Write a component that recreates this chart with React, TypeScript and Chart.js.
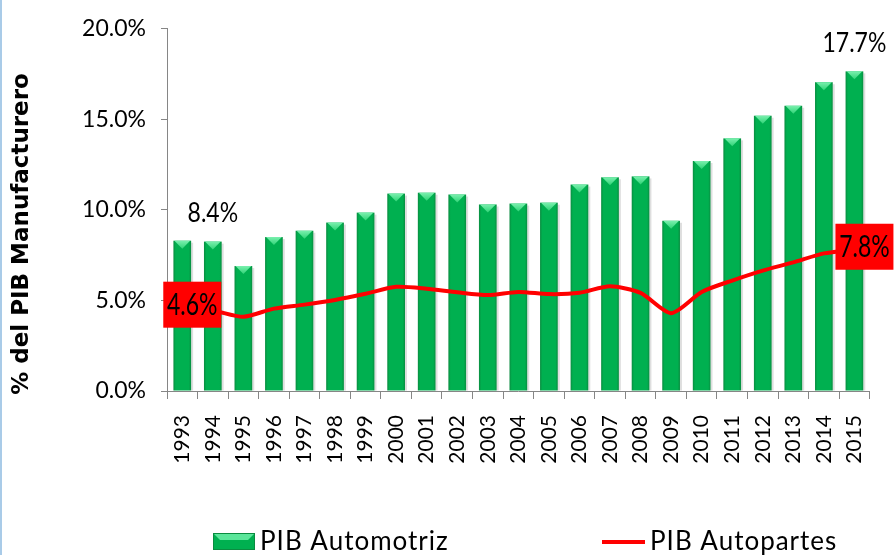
import React, { useEffect, useRef } from "react";
import { Chart, registerables } from "chart.js";

Chart.register(...registerables);

const years = ["1993","1994","1995","1996","1997","1998","1999","2000","2001","2002","2003","2004","2005","2006","2007","2008","2009","2010","2011","2012","2013","2014","2015"];
const pibAutomotriz = [8.3, 8.25, 6.9, 8.5, 8.85, 9.3, 9.85, 10.9, 10.95, 10.85, 10.3, 10.35, 10.4, 11.4, 11.8, 11.85, 9.4, 12.7, 13.95, 15.2, 15.75, 17.05, 17.65];
const pibAutopartes = [4.6, 4.45, 4.1, 4.55, 4.77, 5.03, 5.37, 5.75, 5.65, 5.45, 5.3, 5.47, 5.35, 5.42, 5.78, 5.42, 4.3, 5.47, 6.1, 6.65, 7.1, 7.6, 7.8];
const barLabels = [{ index: 1, text: "8.4%" }, { index: 22, text: "17.7%" }];
const lineLabels = [{ index: 0, text: "4.6%" }, { index: 22, text: "7.8%" }];
const yTicks = [0, 5, 10, 15, 20];
const yTitle = "% del PIB Manufacturero";
const seriesNames = ["PIB Automotriz", "PIB Autopartes"];

const GREEN = "#00b050";
const LATO = "Lato, 'Liberation Sans', sans-serif";

function drawBevelBar(ctx: CanvasRenderingContext2D, l: number, t: number, w: number, h: number) {
  const r = l + w;
  ctx.fillStyle = "rgba(0,0,0,0.13)";
  ctx.fillRect(r, t + 2, 2, h - 2);
  const g = ctx.createLinearGradient(l, 0, r, 0);
  g.addColorStop(0, "#0a8c40");
  g.addColorStop(0.13, GREEN);
  g.addColorStop(0.87, GREEN);
  g.addColorStop(1, "#0a8c40");
  ctx.fillStyle = g;
  ctx.fillRect(l, t, w, h);
  const tg = ctx.createLinearGradient(0, t, 0, t + 8);
  tg.addColorStop(0, "#7af0ae");
  tg.addColorStop(1, "#2fd376");
  ctx.fillStyle = tg;
  ctx.beginPath();
  ctx.moveTo(l + 1, t);
  ctx.lineTo(r - 1, t);
  ctx.lineTo(l + w / 2, t + Math.min(8, h));
  ctx.closePath();
  ctx.fill();
}

function drawStretchedText(ctx: CanvasRenderingContext2D, text: string, x: number, y: number, sy: number) {
  ctx.save();
  ctx.translate(x, y);
  ctx.scale(1, sy);
  ctx.fillText(text, 0, 0);
  ctx.restore();
}

const customPlugin = {
  id: "custom",
  beforeDatasetDraw(chart: any, args: any) {
    if (args.index !== 0) return;
    const ctx = chart.ctx;
    const meta = chart.getDatasetMeta(0);
    ctx.save();
    meta.data.forEach((el: any) => {
      const p = el.getProps(["x", "y", "base", "width"], true);
      drawBevelBar(ctx, p.x - p.width / 2, p.y, p.width, p.base - p.y);
    });
    ctx.restore();
    return false;
  },
  afterDatasetsDraw(chart: any) {
    const ctx = chart.ctx;
    ctx.save();
    const barMeta = chart.getDatasetMeta(0);
    ctx.fillStyle = "#000";
    ctx.font = `23px ${LATO}`;
    ctx.textAlign = "center";
    ctx.textBaseline = "middle";
    barLabels.forEach((lb) => {
      const el = barMeta.data[lb.index];
      drawStretchedText(ctx, lb.text, el.x, el.y - 28, 1.15);
    });
    const lineMeta = chart.getDatasetMeta(1);
    lineLabels.forEach((lb) => {
      const el = lineMeta.data[lb.index];
      const cx = el.x + 10;
      const cy = el.y - 3;
      ctx.fillStyle = "#ff0000";
      ctx.fillRect(cx - 29, cy - 23, 58, 46);
      ctx.fillStyle = "#000";
      ctx.font = `23px ${LATO}`;
      drawStretchedText(ctx, lb.text, cx, cy + 1, 1.3);
    });
    ctx.restore();
  },
  afterDraw(chart: any) {
    const ctx = chart.ctx;
    ctx.save();
    // left border
    ctx.fillStyle = "#a9cbe8";
    ctx.fillRect(0, 0, 2, chart.height);
    // y title
    ctx.translate(22, 234);
    ctx.rotate(-Math.PI / 2);
    ctx.font = "bold 23px 'DejaVu Sans', sans-serif";
    ctx.fillStyle = "#000";
    ctx.textAlign = "center";
    ctx.textBaseline = "middle";
    ctx.fillText(yTitle, 0, 0);
    ctx.restore();

    // legend
    ctx.save();
    drawBevelBarLegend(ctx, 213, 533, 42, 17);
    ctx.strokeStyle = "#ff0000";
    ctx.lineWidth = 4;
    ctx.beginPath();
    ctx.moveTo(602, 542);
    ctx.lineTo(645, 542);
    ctx.stroke();
    ctx.fillStyle = "#000";
    ctx.font = `26px ${LATO}`;
    ctx.textAlign = "left";
    ctx.textBaseline = "alphabetic";
    (ctx as any).letterSpacing = "1px";
    ctx.fillText(seriesNames[0], 260, 550);
    ctx.fillText(seriesNames[1], 650, 550);
    ctx.restore();
  },
};

function drawBevelBarLegend(ctx: CanvasRenderingContext2D, l: number, t: number, w: number, h: number) {
  ctx.fillStyle = GREEN;
  ctx.fillRect(l, t, w, h);
  ctx.fillStyle = "#5be69a";
  ctx.beginPath();
  ctx.moveTo(l, t);
  ctx.lineTo(l + w, t);
  ctx.lineTo(l + w - 7, t + 7);
  ctx.lineTo(l + 7, t + 7);
  ctx.closePath();
  ctx.fill();
  ctx.strokeStyle = "#0a8c40";
  ctx.lineWidth = 1;
  ctx.strokeRect(l + 0.5, t + 0.5, w - 1, h - 1);
}

export default function App() {
  const ref = useRef<HTMLCanvasElement>(null);
  useEffect(() => {
    if (!ref.current) return;
    const chart = new Chart(ref.current, {
      type: "bar",
      data: {
        labels: years,
        datasets: [
          {
            type: "bar",
            label: seriesNames[0],
            data: pibAutomotriz,
            backgroundColor: GREEN,
            barPercentage: 0.58,
            categoryPercentage: 1,
            order: 1,
          },
          {
            type: "line",
            label: seriesNames[1],
            data: pibAutopartes,
            borderColor: "#ff0000",
            borderWidth: 4,
            pointRadius: 0,
            tension: 0.25,
            order: 0,
          } as any,
        ],
      },
      plugins: [customPlugin],
      options: {
        responsive: false,
        devicePixelRatio: 1,
        animation: false,
        layout: { padding: { left: 40, right: 17, top: 22, bottom: 84 } },
        plugins: { legend: { display: false }, tooltip: { enabled: false }, title: { display: false } },
        scales: {
          x: {
            grid: { drawOnChartArea: false, tickLength: 8, color: "#868686", offset: true },
            border: { color: "#868686" },
            ticks: { maxRotation: 90, minRotation: 90, font: { family: LATO, size: 21 }, color: "#000", padding: 16 },
            afterFit: (s: any) => { s.height = 80; },
          },
          y: {
            min: 0,
            max: 20,
            afterBuildTicks: (s: any) => { s.ticks = yTicks.map((v) => ({ value: v })); },
            grid: { drawOnChartArea: false, tickLength: 6, color: "#868686" },
            border: { color: "#868686" },
            ticks: {
              font: { family: LATO, size: 23 },
              color: "#000",
              padding: 15,
              callback: (v: any) => Number(v).toFixed(1) + "%",
            },
            afterFit: (s: any) => { s.width = 127; },
          },
        },
      },
    });
    return () => chart.destroy();
  }, []);
  return (
    <div style={{ position: "absolute", left: 0, top: 0, width: 896, height: 555, background: "#fff" }}>
      <canvas ref={ref} width={896} height={555} style={{ display: "block" }} />
    </div>
  );
}
